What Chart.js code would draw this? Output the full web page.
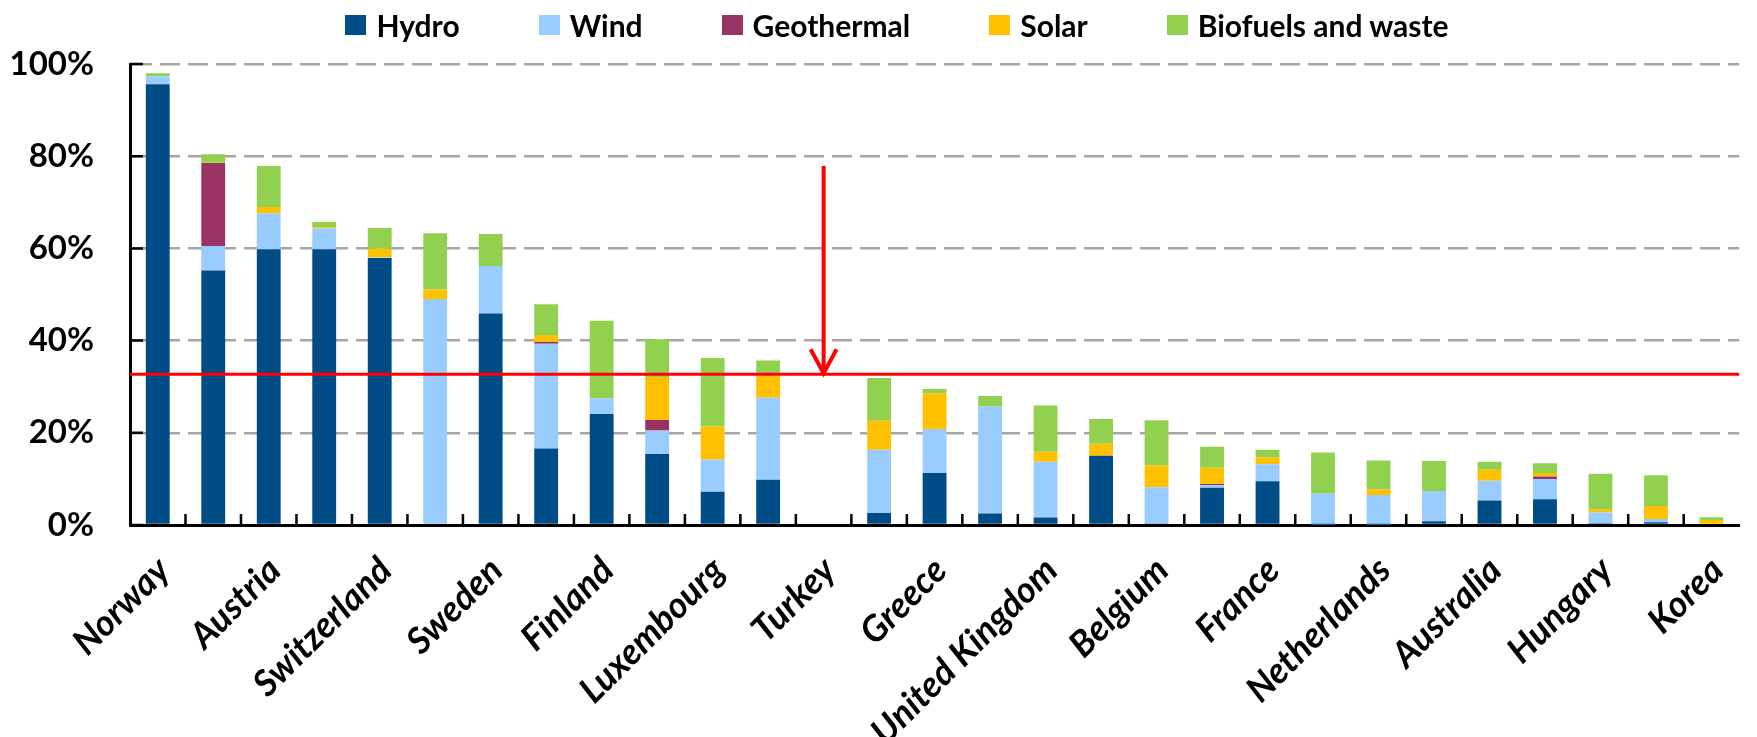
<!DOCTYPE html>
<html>
<head>
<meta charset="utf-8">
<script src="https://cdn.jsdelivr.net/npm/chart.js@4.4.1/dist/chart.umd.min.js"></script>
<style>
  html, body { margin: 0; padding: 0; background: #fff; overflow: hidden; }
  #wrap { position: relative; width: 1757px; height: 737px; overflow: hidden; }
  #chart { position: absolute; left: 0; top: 0; }
  #legend { position: absolute; top: 7px; left: 0; width: 1794px; display: flex; justify-content: center; gap: 79px;
            font: bold 30px Lato, sans-serif; color: #000; }
  #legend .item { display: flex; align-items: center; }
  #legend .box { width: 21px; height: 20px; margin-right: 10px; }
</style>
</head>
<body>
<div id="wrap">
  <canvas id="chart" width="1766" height="737"></canvas>
  <div id="legend"></div>
</div>
<script>
// Renewables in electricity generation, IEA countries (share, %)
const countries = ['Norway', 'New Zealand', 'Austria', 'Canada', 'Switzerland', 'Denmark', 'Sweden', 'Portugal',
  'Finland', 'Italy', 'Luxembourg', 'Spain', 'Turkey', 'Germany', 'Greece', 'Ireland', 'United Kingdom',
  'Slovak Republic', 'Belgium', 'Japan', 'France', 'Estonia', 'Netherlands', 'Poland', 'Australia',
  'United States', 'Hungary', 'Czech Republic', 'Korea'];
const hydro      = [95.6, 55.2, 59.8, 59.8, 57.9, 0,    45.9, 16.6, 24.1, 15.4, 7.2, 9.8,  null, 2.6,  11.3, 2.5,  1.6,  15.0, 0.3, 8.1, 9.5, 0.1, 0.1, 0.8, 5.3, 5.6, 0.4, 0.6, 0];
const wind       = [1.7,  5.3,  7.8,  4.5,  0.1,  49.0, 10.3, 22.7, 3.4,  5.1,  7.0, 17.8, null, 13.7, 9.5,  23.2, 12.1, 0,    7.9, 0.5, 3.7, 6.7, 6.4, 6.6, 4.3, 4.4, 2.3, 0.7, 0];
const geothermal = [0,    18.0, 0,    0,    0,    0,    0,    0.4,  0,    2.3,  0,   0,    null, 0,    0,    0,    0,    0,    0,   0.3, 0,   0,   0,   0,   0,   0.5, 0,   0,   0];
const solar      = [0,    0.1,  1.4,  0.3,  1.9,  2.1,  0,    1.5,  0,    9.3,  7.2, 4.9,  null, 6.3,  7.8,  0,    2.2,  2.6,  4.7, 3.5, 1.5, 0,   1.2, 0,   2.4, 0.8, 0.6, 2.8, 1.1];
const biofuels   = [0.7,  1.8,  8.9,  1.1,  4.5,  12.2, 6.9,  6.7,  16.8, 8.2,  14.8, 3.2, null, 9.3,  0.9,  2.3,  10.0, 5.4,  9.8, 4.6, 1.6, 8.9, 6.3, 6.5, 1.7, 2.1, 7.8, 6.7, 0.6];

const seriesNames  = ['Hydro', 'Wind', 'Geothermal', 'Solar', 'Biofuels and waste'];
const seriesColors = ['#004C87', '#99CCFF', '#993366', '#FFC000', '#92D050'];
const seriesData   = [hydro, wind, geothermal, solar, biofuels];

const turkeyShare = 32.7;   // red reference line
const arrowFrom   = 77.9;   // arrow start
const yTicks      = [0, 20, 40, 60, 80, 100];

// legend (HTML)
const legendEl = document.getElementById('legend');
seriesNames.forEach((n, i) => {
  const it = document.createElement('div');
  it.className = 'item';
  it.innerHTML = '<span class="box" style="background:' + seriesColors[i] + '"></span><span>' + n + '</span>';
  legendEl.appendChild(it);
});

// inward ticks, red line and arrow
const overlay = {
  id: 'overlay',
  afterDatasetsDraw(chart) {
    const { ctx, chartArea: a, scales: { x, y } } = chart;
    ctx.save();
    ctx.strokeStyle = '#000';
    ctx.lineWidth = 2.5;
    ctx.beginPath();
    yTicks.forEach(v => {
      const py = y.getPixelForValue(v);
      ctx.moveTo(a.left, py); ctx.lineTo(a.left + 13, py);
    });
    for (let i = 1; i < countries.length; i++) {
      const px = (x.getPixelForValue(i - 1) + x.getPixelForValue(i)) / 2;
      ctx.moveTo(px, a.bottom); ctx.lineTo(px, a.bottom - 11);
    }
    ctx.stroke();

    const ty = y.getPixelForValue(turkeyShare);
    ctx.strokeStyle = '#FF0000';
    ctx.lineWidth = 3;
    ctx.beginPath(); ctx.moveTo(a.left, ty); ctx.lineTo(a.right, ty); ctx.stroke();

    const ax = x.getPixelForValue(countries.indexOf('Turkey'));
    const ay = y.getPixelForValue(arrowFrom);
    ctx.lineWidth = 4;
    ctx.beginPath(); ctx.moveTo(ax, ay); ctx.lineTo(ax, ty - 3); ctx.stroke();
    ctx.beginPath();
    ctx.moveTo(ax - 13, ty - 25); ctx.lineTo(ax, ty - 1); ctx.lineTo(ax + 13, ty - 25);
    ctx.stroke();
    ctx.restore();
  }
};

new Chart(document.getElementById('chart'), {
  type: 'bar',
  data: {
    labels: countries,
    datasets: seriesNames.map((n, i) => ({
      label: n, data: seriesData[i], backgroundColor: seriesColors[i],
      barPercentage: 0.43, categoryPercentage: 1
    }))
  },
  options: {
    responsive: false,
    animation: false,
    layout: { padding: { top: 64, left: 0, right: 0, bottom: 0 } },
    plugins: { legend: { display: false }, tooltip: { enabled: false } },
    scales: {
      x: {
        stacked: true,
        grid: { display: false, drawTicks: false },
        border: { display: true, color: '#000', width: 3 },
        ticks: {
          autoSkip: false, minRotation: 45, maxRotation: 45, padding: 24, labelOffset: 6, color: '#000',
          font: { family: 'Lato', size: 36, weight: 'bold', style: 'italic' },
          callback: (v, i) => (i % 2 === 0 ? countries[i] : '')
        },
        afterFit: s => { s.height = 212; }
      },
      y: {
        stacked: true, min: 0, max: 100,
        grid: {
          drawTicks: false, lineWidth: 2.5,
          color: c => (c.tick && c.tick.value === 0 ? 'rgba(0,0,0,0)' : '#A6A6A6')
        },
        border: { display: true, color: '#000', width: 3, dash: [20, 8] },
        ticks: {
          stepSize: 20, padding: 36, color: '#000',
          font: { family: 'Lato', size: 33, weight: 'bold' },
          callback: v => v + '%'
        },
        afterFit: s => { s.width = 130; }
      }
    }
  },
  plugins: [overlay]
});
</script>
</body>
</html>
